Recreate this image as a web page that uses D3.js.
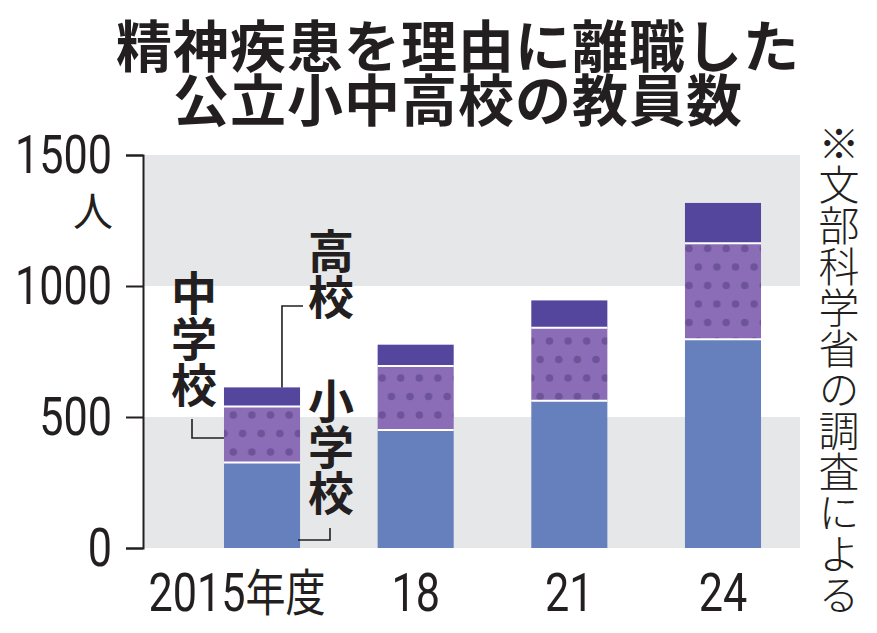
<!DOCTYPE html>
<html>
<head>
<meta charset="utf-8">
<script src="https://cdn.jsdelivr.net/npm/d3@7"></script>
<style>
  body { margin: 0; background: #fff; }
  svg { display: block; }
</style>
</head>
<body>
<svg id="chart" width="877" height="633"></svg>
<script>
// values (persons)
var years = ["2015年度", "18", "21", "24"];
var elementary = [326, 450, 562, 797];   // 小学校
var juniorHigh = [214, 245, 279, 366];   // 中学校
var highSchool = [73, 81, 104, 154];     // 高校
var yTicks = [0, 500, 1000, 1500];
var titleLines = ["精神疾患を理由に離職した", "公立小中高校の教員数"];
var unitLabel = "人";
var sourceNote = "※文部科学省の調査による";

var svg = d3.select("#chart");
var numFont = "Roboto, 'Liberation Sans', sans-serif";
var jpFont = "'Noto Sans CJK JP', sans-serif";
var squeeze = 0.8; // the numerals in the picture are condensed

var y = d3.scaleLinear().domain([0, 1500]).range([548, 155]);
var x = d3.scaleBand()
  .domain(years)
  .range([143, 842])
  .paddingInner(0.505)
  .paddingOuter(0.527);

// background bands
var bands = [[0, 500], [1000, 1500]];
svg.append("g").selectAll("rect")
  .data(bands)
  .enter().append("rect")
  .attr("x", 143)
  .attr("width", 800 - 143)
  .attr("y", function (d) { return y(d[1]); })
  .attr("height", function (d) { return y(d[0]) - y(d[1]); })
  .attr("fill", "#e6e7e8");

// dot pattern for 中学校
var defs = svg.append("defs");
var pat = defs.append("pattern")
  .attr("id", "dots")
  .attr("patternUnits", "userSpaceOnUse")
  .attr("x", 224)
  .attr("y", 0)
  .attr("width", 18.6)
  .attr("height", 37);
pat.append("rect").attr("width", 18.6).attr("height", 37).attr("fill", "#8a6db6");
[[9.3, 8], [0, 26.5], [18.6, 26.5]].forEach(function (p) {
  pat.append("circle").attr("cx", p[0]).attr("cy", p[1]).attr("r", 3.8).attr("fill", "#6d5499");
});

var table = years.map(function (yr, i) {
  return { year: yr, "小学校": elementary[i], "中学校": juniorHigh[i], "高校": highSchool[i] };
});
var keys = ["小学校", "中学校", "高校"];
var fills = { "小学校": "#6680be", "中学校": "url(#dots)", "高校": "#54469d" };
var stacked = d3.stack().keys(keys)(table);

var layers = svg.append("g").selectAll("g")
  .data(stacked)
  .enter().append("g")
  .attr("fill", function (d) { return fills[d.key]; });

layers.selectAll("rect")
  .data(function (d) { return d; })
  .enter().append("rect")
  .attr("x", function (d) { return x(d.data.year); })
  .attr("width", x.bandwidth())
  .attr("y", function (d) { return y(d[1]); })
  .attr("height", function (d) { return y(d[0]) - y(d[1]); });

// white separators between segments
svg.append("g").selectAll("line")
  .data(stacked.slice(1).reduce(function (a, l) { return a.concat(l); }, []))
  .enter().append("line")
  .attr("x1", function (d) { return x(d.data.year); })
  .attr("x2", function (d) { return x(d.data.year) + x.bandwidth(); })
  .attr("y1", function (d) { return y(d[0]); })
  .attr("y2", function (d) { return y(d[0]); })
  .attr("stroke", "#fff")
  .attr("stroke-width", 2);

// y axis
var yAxis = svg.append("g")
  .attr("transform", "translate(143,0)")
  .call(d3.axisLeft(y).tickValues(yTicks).tickSize(17).tickPadding(14).tickFormat(d3.format("d")));
yAxis.select(".domain").attr("stroke", "#231f20").attr("stroke-width", 2);
yAxis.selectAll(".tick line").attr("stroke", "#231f20").attr("stroke-width", 2);
yAxis.selectAll(".tick text")
  .attr("fill", "#231f20")
  .attr("x", -31 / squeeze)
  .attr("transform", "scale(" + squeeze + ",1)")
  .style("font-family", numFont)
  .style("font-size", "54px");

svg.append("text")
  .attr("x", 113)
  .attr("y", 226)
  .attr("text-anchor", "end")
  .style("font-family", jpFont)
  .style("font-size", "40px")
  .attr("fill", "#231f20")
  .text(unitLabel);

// x labels
var xl = svg.append("g").selectAll("g")
  .data(years)
  .enter().append("g")
  .attr("transform", function (d, i) {
    return "translate(" + (x(d) + x.bandwidth() / 2 + (i === 0 ? -25 : 0)) + ",611)";
  })
  .append("text")
  .attr("transform", "scale(" + squeeze + ",1)")
  .attr("text-anchor", "middle")
  .attr("fill", "#231f20");
xl.selectAll("tspan")
  .data(function (d) { return d.match(/\d+|\D+/g); })
  .enter().append("tspan")
  .style("font-family", function (d) { return /\d/.test(d) ? numFont : jpFont; })
  .style("font-size", function (d) { return /\d/.test(d) ? "54px" : "50px"; })
  .text(function (d) { return d; });

// title
svg.append("g").selectAll("text")
  .data(titleLines)
  .enter().append("text")
  .attr("x", 458)
  .attr("y", function (d, i) { return 67 + i * 54; })
  .attr("text-anchor", "middle")
  .attr("fill", "#231f20")
  .style("font-family", jpFont)
  .style("font-weight", 700)
  .style("font-size", "56px")
  .style("letter-spacing", "1px")
  .text(function (d) { return d; });

// source note (vertical)
svg.append("text")
  .attr("transform", "translate(839,123)")
  .style("writing-mode", "vertical-rl")
  .style("font-family", jpFont)
  .style("font-weight", 300)
  .style("font-size", "41px")
  .attr("fill", "#231f20")
  .text(sourceNote);

// series labels with leader lines
var b0 = x(years[0]);
var labels = [
  { text: "高校", x: 331, y: 228 },
  { text: "中学校", x: 194, y: 270 },
  { text: "小学校", x: 331, y: 378 }
];
svg.append("g").selectAll("text")
  .data(labels)
  .enter().append("text")
  .attr("transform", function (d) { return "translate(" + d.x + "," + d.y + ")"; })
  .style("writing-mode", "vertical-rl")
  .style("font-family", jpFont)
  .style("font-weight", 700)
  .style("font-size", "46px")
  .attr("fill", "#231f20")
  .text(function (d) { return d.text; });

var leaders = [
  [[b0 + 58, y(elementary[0] + juniorHigh[0] + highSchool[0])], [b0 + 58, 306], [303, 306]],
  [[192, 419], [192, 438], [b0, 438]],
  [[298, 540], [330, 540], [330, 528]]
];
svg.append("g").selectAll("path")
  .data(leaders)
  .enter().append("path")
  .attr("d", d3.line())
  .attr("fill", "none")
  .attr("stroke", "#231f20")
  .attr("stroke-width", 1.6);
</script>
</body>
</html>
